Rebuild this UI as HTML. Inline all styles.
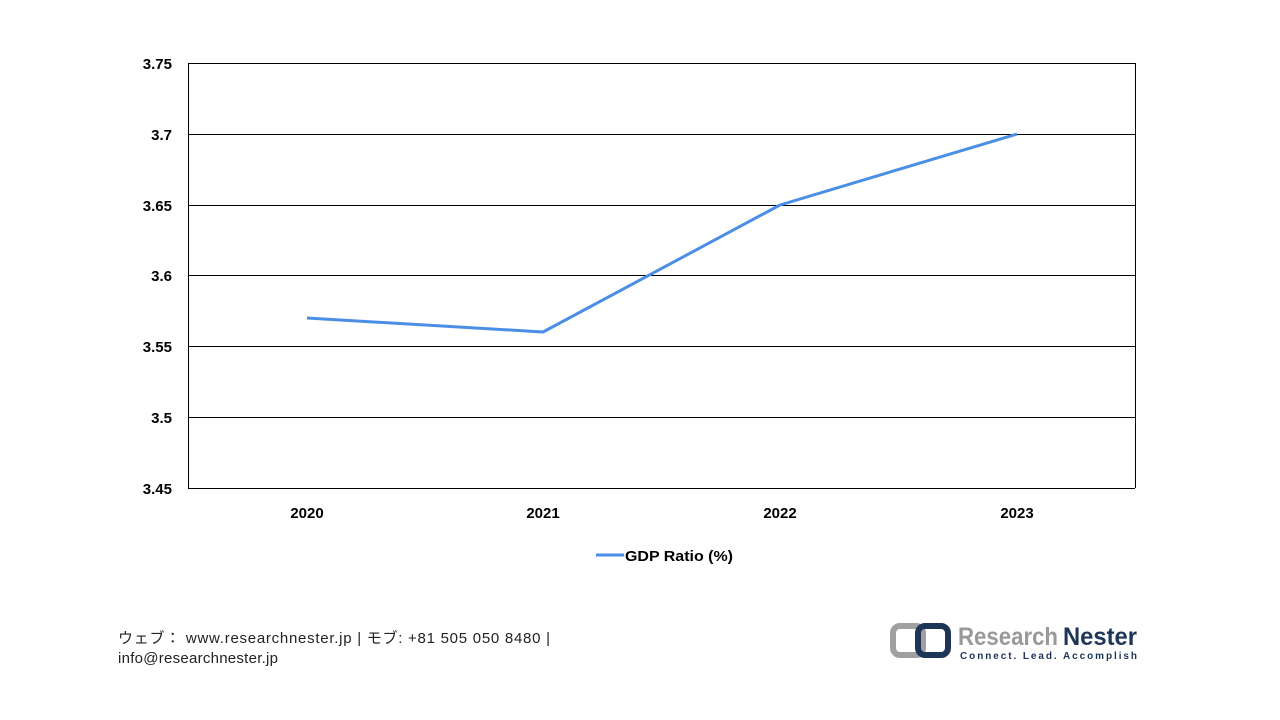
<!DOCTYPE html>
<html><head><meta charset="utf-8"><style>
body{margin:0;width:1280px;height:720px;background:#fff;overflow:hidden;font-family:"Liberation Sans","Noto Sans CJK JP",sans-serif;}
</style></head><body>
<svg width="1280" height="720" style="position:absolute;left:0;top:0">
<g stroke="#000" stroke-width="1">
<line x1="188" y1="63.5" x2="1135" y2="63.5"/>
<line x1="188" y1="134.5" x2="1135" y2="134.5"/>
<line x1="188" y1="205.5" x2="1135" y2="205.5"/>
<line x1="188" y1="275.5" x2="1135" y2="275.5"/>
<line x1="188" y1="346.5" x2="1135" y2="346.5"/>
<line x1="188" y1="417.5" x2="1135" y2="417.5"/>
<line x1="188" y1="488.5" x2="1135" y2="488.5"/>
<line x1="188.5" y1="63" x2="188.5" y2="488"/>
<line x1="1135.5" y1="63" x2="1135.5" y2="488"/>
</g>
<g font-family="Liberation Sans, sans-serif" font-weight="bold" font-size="15" fill="#000" text-anchor="end">
<text x="172" y="69">3.75</text><text x="172" y="140">3.7</text><text x="172" y="211">3.65</text>
<text x="172" y="281">3.6</text><text x="172" y="352">3.55</text><text x="172" y="423">3.5</text><text x="172" y="494">3.45</text>
</g>
<g font-family="Liberation Sans, sans-serif" font-weight="bold" font-size="15" fill="#000" text-anchor="middle">
<text x="307" y="518">2020</text><text x="543" y="518">2021</text><text x="780" y="518">2022</text><text x="1017" y="518">2023</text>
</g>
<polyline points="307,318 543,332 780,205 1017,134" fill="none" stroke="#4a8ee6" stroke-width="3" stroke-linejoin="round"/>
<line x1="596" y1="555" x2="624" y2="555" stroke="#4a8ee6" stroke-width="3"/>
<text x="625" y="561" font-family="Liberation Sans, sans-serif" font-weight="bold" font-size="15" textLength="108" lengthAdjust="spacingAndGlyphs">GDP Ratio (%)</text>
<text x="118" y="643" font-size="15" fill="#222" font-family="Liberation Sans, Noto Sans CJK JP, sans-serif" textLength="432" lengthAdjust="spacing">ウェブ：  www.researchnester.jp  | モブ: +81 505 050 8480 |</text>
<text x="118" y="663" font-size="15" fill="#222" font-family="Liberation Sans, sans-serif" textLength="160" lengthAdjust="spacing">info@researchnester.jp</text>
<rect x="893" y="626" width="30" height="29" rx="7" fill="none" stroke="#a0a0a0" stroke-width="6"/>
<rect x="918" y="626" width="30" height="29" rx="7" fill="none" stroke="#1d3557" stroke-width="6"/>
<text x="958" y="645" font-size="25" font-weight="bold" fill="#999" font-family="Liberation Sans, sans-serif" textLength="100" lengthAdjust="spacingAndGlyphs">Research</text>
<text x="1063" y="645" font-size="25" font-weight="bold" fill="#1d3557" font-family="Liberation Sans, sans-serif" textLength="74" lengthAdjust="spacingAndGlyphs">Nester</text>
<text x="960" y="659" font-size="10" font-weight="bold" fill="#1d3557" font-family="Liberation Sans, sans-serif" textLength="177" lengthAdjust="spacing">Connect. Lead. Accomplish</text>
</svg>
</body></html>
